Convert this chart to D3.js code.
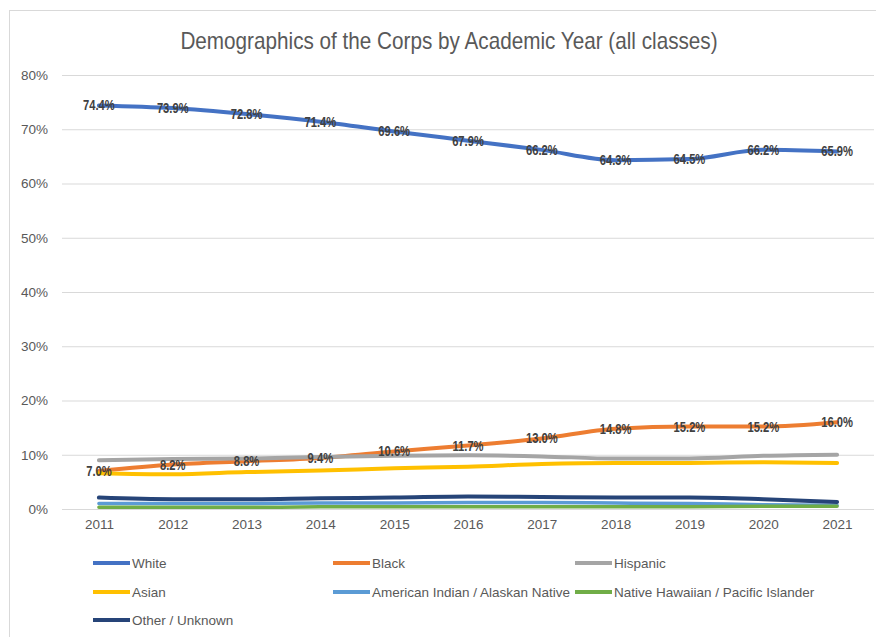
<!DOCTYPE html>
<html>
<head>
<meta charset="utf-8">
<script src="https://cdn.jsdelivr.net/npm/d3@7"></script>
<style>
  html, body { margin: 0; padding: 0; background: #fff; }
  svg { display: block; }
  text { font-family: "Liberation Sans", Arial, sans-serif; }
</style>
</head>
<body>
<svg id="chart" width="876" height="637"></svg>
<script>
// Academic years on the x axis
const years = ["2011","2012","2013","2014","2015","2016","2017","2018","2019","2020","2021"];

// Share of the Corps (%) per group
const white    = [74.4, 73.9, 72.8, 71.4, 69.6, 67.9, 66.2, 64.3, 64.5, 66.2, 65.9];
const black    = [7.0, 8.2, 8.8, 9.4, 10.6, 11.7, 13.0, 14.8, 15.2, 15.2, 16.0];
const hispanic = [9.0, 9.2, 9.3, 9.6, 9.8, 9.9, 9.7, 9.3, 9.3, 9.8, 10.0];
const asian    = [6.6, 6.4, 6.8, 7.1, 7.5, 7.8, 8.3, 8.5, 8.5, 8.6, 8.5];
const amIndian = [1.0, 1.0, 1.0, 1.1, 1.1, 1.2, 1.2, 1.1, 1.0, 0.8, 0.7];
const hawaiian = [0.3, 0.3, 0.3, 0.4, 0.4, 0.4, 0.4, 0.4, 0.4, 0.5, 0.5];
const other    = [2.1, 1.8, 1.8, 2.0, 2.1, 2.3, 2.2, 2.1, 2.1, 1.8, 1.3];

const yTicks = [0, 10, 20, 30, 40, 50, 60, 70, 80];

const series = [
  { name: "White", values: white, color: "#4472C4", width: 4, labels: true },
  { name: "Black", values: black, color: "#ED7D31", width: 4, labels: true },
  { name: "Hispanic", values: hispanic, color: "#A5A5A5", width: 4 },
  { name: "Asian", values: asian, color: "#FFC000", width: 4 },
  { name: "American Indian / Alaskan Native", values: amIndian, color: "#5B9BD5", width: 3.5 },
  { name: "Native Hawaiian / Pacific Islander", values: hawaiian, color: "#70AD47", width: 3.5 },
  { name: "Other / Unknown", values: other, color: "#264478", width: 4 }
];

const svg = d3.select("#chart");

// outer frame of the chart area
svg.append("rect")
  .attr("x", 9.5).attr("y", 10.5)
  .attr("width", 900).attr("height", 700)
  .attr("fill", "#fff").attr("stroke", "#d9d9d9");

const x = d3.scalePoint().domain(years).range([62, 874]).padding(0.5);
const y = d3.scaleLinear().domain([0, 80]).range([509, 75]);

// title (slightly condensed)
svg.append("text")
  .attr("transform", "translate(449,49) scale(0.9,1)")
  .attr("text-anchor", "middle")
  .attr("font-size", 23)
  .attr("fill", "#595959")
  .text("Demographics of the Corps by Academic Year (all classes)");

// horizontal gridlines and percentage labels
const yAxis = d3.axisLeft(y).tickValues(yTicks).tickSize(-(874 - 62)).tickPadding(14)
  .tickFormat(d => d + "%");
const gy = svg.append("g").attr("transform", "translate(62,0)").call(yAxis);
gy.select(".domain").remove();
gy.selectAll(".tick line").attr("stroke", "#d9d9d9").attr("stroke-width", 1);
gy.selectAll(".tick text")
  .attr("font-size", 13.5).attr("fill", "#595959")
  .attr("font-family", "Liberation Sans, Arial, sans-serif");

// x axis labels
const xAxis = d3.axisBottom(x).tickSize(0).tickPadding(10);
const gx = svg.append("g").attr("transform", "translate(0,509)").call(xAxis);
gx.select(".domain").remove();
gx.selectAll(".tick text")
  .attr("font-size", 13.5).attr("fill", "#595959")
  .attr("font-family", "Liberation Sans, Arial, sans-serif");

// series lines
const line = d3.line()
  .x((d, i) => x(years[i]))
  .y(d => y(d))
  .curve(d3.curveMonotoneX);

svg.append("g").selectAll("path")
  .data(series)
  .join("path")
  .attr("d", s => line(s.values))
  .attr("fill", "none")
  .attr("stroke", s => s.color)
  .attr("stroke-width", s => s.width)
  .attr("stroke-linecap", "round")
  .attr("stroke-linejoin", "round");

// value labels for White and Black series
const labelled = series.filter(s => s.labels);
const lg = svg.append("g");
labelled.forEach(s => {
  lg.selectAll(null)
    .data(s.values)
    .join("text")
    .attr("transform", (d, i) => `translate(${x(years[i])},${y(d) + 5}) scale(0.8,1)`)
    .attr("text-anchor", "middle")
    .attr("font-size", 14)
    .attr("font-weight", "bold")
    .attr("fill", "#404040")
    .text(d => d.toFixed(1) + "%");
});

// legend
const legendCols = [93, 333, 575];
const legendRows = [563, 592, 620];
const legend = svg.append("g");
series.forEach((s, i) => {
  const lx = legendCols[i % 3];
  const ly = legendRows[Math.floor(i / 3)];
  legend.append("line")
    .attr("x1", lx).attr("x2", lx + 37)
    .attr("y1", ly).attr("y2", ly)
    .attr("stroke", s.color).attr("stroke-width", 4);
  legend.append("text")
    .attr("x", lx + 39).attr("y", ly + 5)
    .attr("font-size", 13.5).attr("fill", "#595959")
    .text(s.name);
});
</script>
</body>
</html>
